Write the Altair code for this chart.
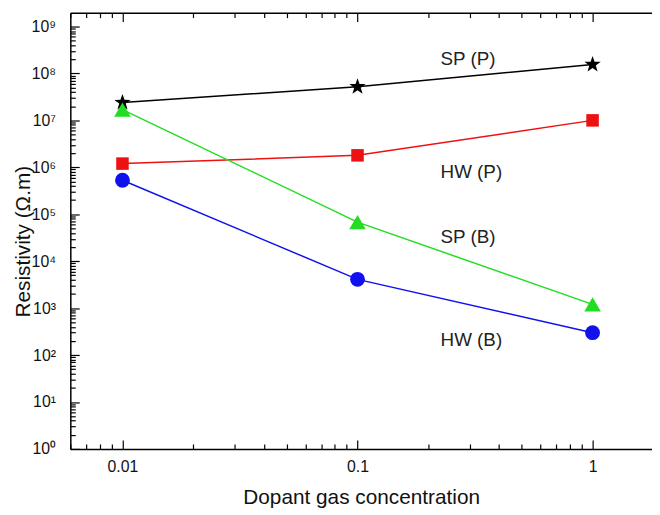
import altair as alt
import pandas as pd

# ---- data ----
conc = [0.01, 0.1, 1]
series_names = ["SP (P)", "HW (P)", "SP (B)", "HW (B)"]
sp_p = [2.4e7, 5.2e7, 1.55e8]
hw_p = [1.2e6, 1.8e6, 1.0e7]
sp_b = [1.7e7, 6.8e4, 1.2e3]
hw_b = [5.3e5, 4.1e3, 3.0e2]
series_values = [sp_p, hw_p, sp_b, hw_b]

series_colors = ["#000000", "#ee1111", "#22dd22", "#1111ee"]
STAR = ("M0,-1 L0.235,-0.324 L0.951,-0.309 L0.38,0.124 L0.588,0.809 "
        "L0,0.4 L-0.588,0.809 L-0.38,0.124 L-0.951,-0.309 L-0.235,-0.324 Z")
series_shapes = [STAR, "square", "triangle-up", "circle"]
series_sizes = [300, 160, 280, 225]

# annotation labels
label_text = ["SP (P)", "HW (P)", "SP (B)", "HW (B)"]
label_x = [0.295, 0.305, 0.295, 0.305]
label_y = [2.0e8, 7.8e5, 3.2e4, 2.1e2]

# axis ticks
x_ticks = [m * 10.0 ** e for e in (-3, -2, -1) for m in range(1, 10)] + [1.0]
x_ticks = [round(v, 6) for v in x_ticks if v >= 0.006]
y_ticks = [float(m * 10 ** e) for e in range(0, 9) for m in range(1, 10)] + [1e9]

X_DOMAIN = [0.006, 1.79]
Y_DOMAIN = [1, 1.97e9]

rows = []
for name, vals, col, shp, sz in zip(series_names, series_values, series_colors,
                                    series_shapes, series_sizes):
    for c, v in zip(conc, vals):
        rows.append({"series": name, "conc": c, "value": v, "col": col,
                     "shape": shp, "msize": sz})
df = pd.DataFrame(rows)
lab_df = pd.DataFrame({"label": label_text, "x": label_x, "y": label_y})

FONT = "Liberation Sans"
MAJ = "abs(log(datum.value)/LN10 - round(log(datum.value)/LN10)) < 0.001"
TICK = {"expr": f"({MAJ}) ? -9 : -5"}
SUP = "['\u2070','\u00b9','\u00b2','\u00b3','\u2074','\u2075','\u2076','\u2077','\u2078','\u2079']"

x_scale = alt.Scale(type="log", domain=X_DOMAIN, nice=False)
y_scale = alt.Scale(type="log", domain=Y_DOMAIN, nice=False)

common = dict(domainColor="black", domainWidth=1.5, tickColor="black",
              tickWidth=1.2, grid=False, labelFont=FONT, titleFont=FONT,
              labelColor="#111", titleColor="#111", labelFontSize=16,
              titleFontSize=21, titleFontWeight="normal", tickSize=TICK)

x_axis_bottom = alt.Axis(orient="bottom", values=x_ticks,
                         labelExpr=f"({MAJ}) ? format(datum.value, '~g') : ''",
                         labelPadding=19, title="Dopant gas concentration",
                         titlePadding=12, labelFlush=False, **common)
x_axis_top = alt.Axis(orient="top", values=x_ticks, labels=False, title=None,
                      **common)
y_axis_left = alt.Axis(orient="left", values=y_ticks,
                       labelExpr=f"({MAJ}) ? '10' + {SUP}[round(log(datum.value)/LN10)] : ''",
                       labelPadding=24, title="Resistivity (\u03a9.m)",
                       titleX=-47, titleY=231, titleBaseline="middle",
                       titleAngle=270, titleAlign="center",
                       labelFlush=False, **common)

lines = alt.Chart(df).mark_line(strokeWidth=1.5).encode(
    x=alt.X("conc:Q", scale=x_scale, axis=x_axis_bottom),
    y=alt.Y("value:Q", scale=y_scale, axis=y_axis_left),
    color=alt.Color("col:N", scale=None),
    detail="series:N",
)

points = alt.Chart(df).mark_point(filled=True, opacity=1, strokeWidth=0).encode(
    x=alt.X("conc:Q", scale=x_scale, axis=None),
    y=alt.Y("value:Q", scale=y_scale, axis=None),
    color=alt.Color("col:N", scale=None),
    shape=alt.Shape("shape:N", scale=None),
    size=alt.Size("msize:Q", scale=None),
)

texts = alt.Chart(lab_df).mark_text(fontSize=19, font=FONT, color="#222",
                                     baseline="middle", align="center").encode(
    x=alt.X("x:Q", scale=x_scale, axis=x_axis_top),
    y=alt.Y("y:Q", scale=y_scale, axis=None),
    text="label:N",
)

chart = alt.layer(lines, points, texts).resolve_axis(
    x="independent", y="independent"
).properties(
    width=588, height=441, autosize="none",
    padding={"left": 63, "top": 2, "right": 0, "bottom": 60},
    background="white",
).configure_view(stroke=None)

chart.save("out.html", embed_options={"renderer": "svg", "actions": False})
